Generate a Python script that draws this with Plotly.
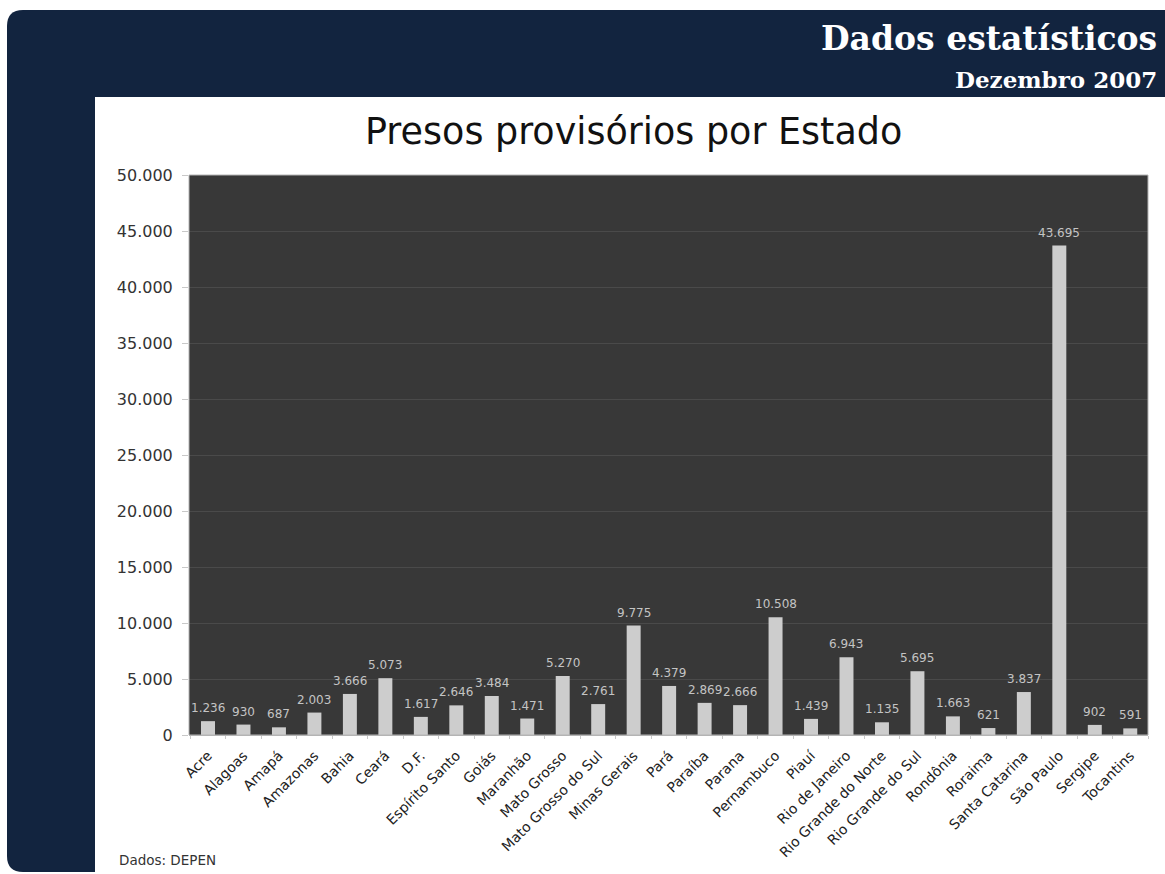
import plotly.graph_objects as go

# Presos provisórios por Estado (Dezembro 2007) - fonte DEPEN
estados = [
    "Acre", "Alagoas", "Amapá", "Amazonas", "Bahia", "Ceará", "D.F.",
    "Espírito Santo", "Goiás", "Maranhão", "Mato Grosso", "Mato Grosso do Sul",
    "Minas Gerais", "Pará", "Paraíba", "Parana", "Pernambuco", "Piauí",
    "Rio de Janeiro", "Rio Grande do Norte", "Rio Grande do Sul", "Rondônia",
    "Roraima", "Santa Catarina", "São Paulo", "Sergipe", "Tocantins",
]
presos = [
    1236, 930, 687, 2003, 3666, 5073, 1617,
    2646, 3484, 1471, 5270, 2761,
    9775, 4379, 2869, 2666, 10508, 1439,
    6943, 1135, 5695, 1663,
    621, 3837, 43695, 902, 591,
]
y_ticks = [0, 5000, 10000, 15000, 20000, 25000, 30000, 35000, 40000, 45000, 50000]

W, H = 1165, 874
ML, MR, MT, MB = 189, 17, 175, 139
PW, PH = W - ML - MR, H - MT - MB

NAVY = "#12243f"
PLOT_BG = "#383838"
SANS = "DejaVu Sans"
SERIF = "DejaVu Serif"


def px(x):
    return (x - ML) / PW


def py(y):
    return (H - MB - y) / PH


def rounded_rect(x0, y0, x1, y1, r):
    # rectangle with rounded left corners, in page pixels -> paper units
    pts = [
        f"M {px(x0)},{py(y0 + r)}",
        f"Q {px(x0)},{py(y0)} {px(x0 + r)},{py(y0)}",
        f"L {px(x1)},{py(y0)}",
        f"L {px(x1)},{py(y1)}",
        f"L {px(x0 + r)},{py(y1)}",
        f"Q {px(x0)},{py(y1)} {px(x0)},{py(y1 - r)}",
        "Z",
    ]
    return " ".join(pts)


fig = go.Figure()
fig.add_trace(go.Bar(
    x=estados,
    y=presos,
    marker=dict(color="#cdcdcd", line=dict(width=0)),
    hoverinfo="x+y",
))

shapes = [
    # navy frame
    dict(type="path", xref="paper", yref="paper", layer="below",
         path=rounded_rect(7, 10, W + 5, 872, 16),
         fillcolor=NAVY, line=dict(width=0)),
    # white content panel
    dict(type="rect", xref="paper", yref="paper", layer="below",
         x0=px(95), x1=px(W + 5), y0=py(97), y1=py(H + 5),
         fillcolor="white", line=dict(width=0)),
    # dark plotting area
    dict(type="rect", xref="paper", yref="paper", layer="below",
         x0=0, x1=1, y0=0, y1=1,
         fillcolor=PLOT_BG, line=dict(width=0)),
    # plot frame
    dict(type="rect", xref="paper", yref="paper", layer="above",
         x0=0, x1=1, y0=0, y1=1,
         line=dict(color="#b4b4b4", width=1)),
]

annotations = [
    dict(text="<b>Dados estatísticos</b>", xref="paper", yref="paper",
         x=px(1159), y=py(38), xanchor="right", yanchor="middle",
         showarrow=False, font=dict(family=SERIF, size=33, color="white")),
    dict(text="<b>Dezembro 2007</b>", xref="paper", yref="paper",
         x=px(1159), y=py(80), xanchor="right", yanchor="middle",
         showarrow=False, font=dict(family=SERIF, size=23, color="white")),
    dict(text="Presos provisórios por Estado", xref="paper", yref="paper",
         x=px(633), y=py(131), xanchor="center", yanchor="middle",
         showarrow=False, font=dict(family=SANS, size=36.5, color="#111111")),
    dict(text="Dados: DEPEN", xref="paper", yref="paper",
         x=px(117), y=py(860), xanchor="left", yanchor="middle",
         showarrow=False, font=dict(family=SANS, size=13.5, color="#333333")),
]

# value labels above each bar
for nome, valor in zip(estados, presos):
    annotations.append(dict(
        x=nome, y=valor, xref="x", yref="y",
        text=f"{valor:,}".replace(",", "."),
        showarrow=False, xanchor="center", yanchor="bottom", yshift=4,
        font=dict(family=SANS, size=12, color="#c4c4c4"),
    ))

fig.update_layout(
    width=W, height=H,
    margin=dict(l=ML, r=MR, t=MT, b=MB, pad=0),
    paper_bgcolor="white",
    plot_bgcolor=PLOT_BG,
    separators=",.",
    bargap=0.606,
    showlegend=False,
    shapes=shapes,
    annotations=annotations,
    xaxis=dict(
        type="category",
        tickangle=-45,
        tickfont=dict(family=SANS, size=14, color="#222222"),
        ticks="outside", ticklen=3, tickcolor="#c8c8c8",
        tickson="boundaries",
        ticklabelstandoff=6,
        showgrid=False, zeroline=False,
        showline=True, linecolor="#b4b4b4", linewidth=1,
    ),
    yaxis=dict(
        range=[0, 50000],
        tickvals=y_ticks,
        tickformat=",d",
        tickfont=dict(family=SANS, size=16, color="#333333"),
        ticks="outside", ticklen=6, tickcolor="#c8c8c8",
        ticklabelstandoff=6,
        showgrid=True, gridcolor="#4a4a4a", gridwidth=1,
        zeroline=False, showline=False,
    ),
)

fig.write_html("out.html", config={"displayModeBar": False})
